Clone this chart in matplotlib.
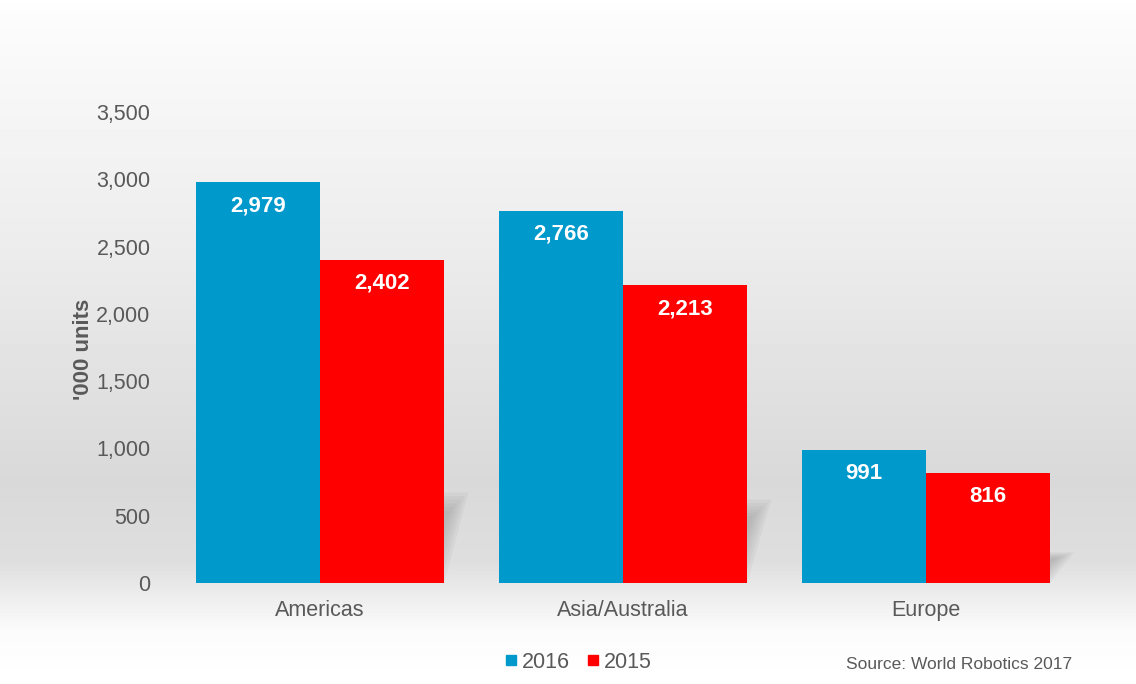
import numpy as np
import matplotlib.pyplot as plt
from matplotlib.lines import Line2D

plt.rcParams['font.family'] = ['Liberation Sans', 'DejaVu Sans']

regions = ["Americas", "Asia/Australia", "Europe"]
years = ["2016", "2015"]
units_2016 = [2979, 2766, 991]
units_2015 = [2402, 2213, 816]
y_ticks = [0, 500, 1000, 1500, 2000, 2500, 3000, 3500]

blue = "#0099cc"
red = "#ff0000"
grey_text = "#595959"

fig = plt.figure(figsize=(11.36, 6.84), dpi=100)

# slide-like vertical gradient behind everything
bg = fig.add_axes([0, 0, 1, 1], zorder=-10)
rows = np.arange(684)
stops_y = [0, 8, 60, 250, 480, 560, 630, 684]
stops_v = [1.0, 0.99, 0.975, 0.925, 0.85, 0.87, 0.985, 1.0]
col = np.interp(rows, stops_y, stops_v)
grad = np.repeat(col[:, None], 4, axis=1)
bg.imshow(grad, cmap="gray", vmin=0, vmax=1, aspect="auto",
          extent=[0, 1, 0, 1], origin="upper")
bg.axis("off")

ax = fig.add_axes([0.1483, 0.1477, 0.8, 0.6886])
ax.set_facecolor("none")

x = np.arange(len(regions))
w = 0.41

# soft shadows cast behind each pair of bars
for xi, hb, hr in zip(x, units_2016, units_2015):
    sh = 0.28 * hr
    x0, x1 = xi - w, xi + w
    for k in range(6):
        d = 0.012 * k
        ax.fill([x0 + 0.05, x1 - d, x1 + 0.08 - d, x0 + 0.13],
                [0, 0, sh - k * 0.04 * sh, sh - k * 0.04 * sh],
                color="#8c8c8c", alpha=0.09, lw=0, zorder=1)

b1 = ax.bar(x - w / 2, units_2016, w, color=blue, zorder=3)
b2 = ax.bar(x + w / 2, units_2015, w, color=red, zorder=3)

for bars, vals in ((b1, units_2016), (b2, units_2015)):
    for r, v in zip(bars, vals):
        ax.annotate(f"{v:,}", (r.get_x() + r.get_width() / 2, v),
                    xytext=(0, -17), textcoords="offset points",
                    ha="center", va="center", color="white",
                    fontsize=16, fontweight="bold", zorder=4)

ax.set_xlim(-0.5, len(regions) - 0.5)
ax.set_ylim(0, 3500)
ax.set_yticks(y_ticks)
ax.set_yticklabels([f"{t:,}" for t in y_ticks])
ax.set_xticks(x)
ax.set_xticklabels(regions)
ax.tick_params(axis="y", length=0, pad=13, labelsize=15.5, labelcolor=grey_text)
ax.tick_params(axis="x", length=0, pad=12, labelsize=15.5, labelcolor=grey_text)
for s in ax.spines.values():
    s.set_visible(False)

ax.set_ylabel("'000 units", fontsize=16, fontweight="bold", color=grey_text)
ax.yaxis.set_label_coords(-0.082, 0.495)

handles = [Line2D([], [], marker="s", ls="none", color=c, markersize=7)
           for c in (blue, red)]
fig.legend(handles, years, loc="center", bbox_to_anchor=(0.507, 0.032),
           ncol=2, frameon=False, fontsize=15.5, handletextpad=0.0,
           columnspacing=0.6, labelcolor=grey_text, handlelength=1.0)

fig.text(0.944, 0.029, "Source: World Robotics 2017", ha="right", va="center",
         fontsize=12.5, color=grey_text)

fig.savefig("out.png", dpi=100)
